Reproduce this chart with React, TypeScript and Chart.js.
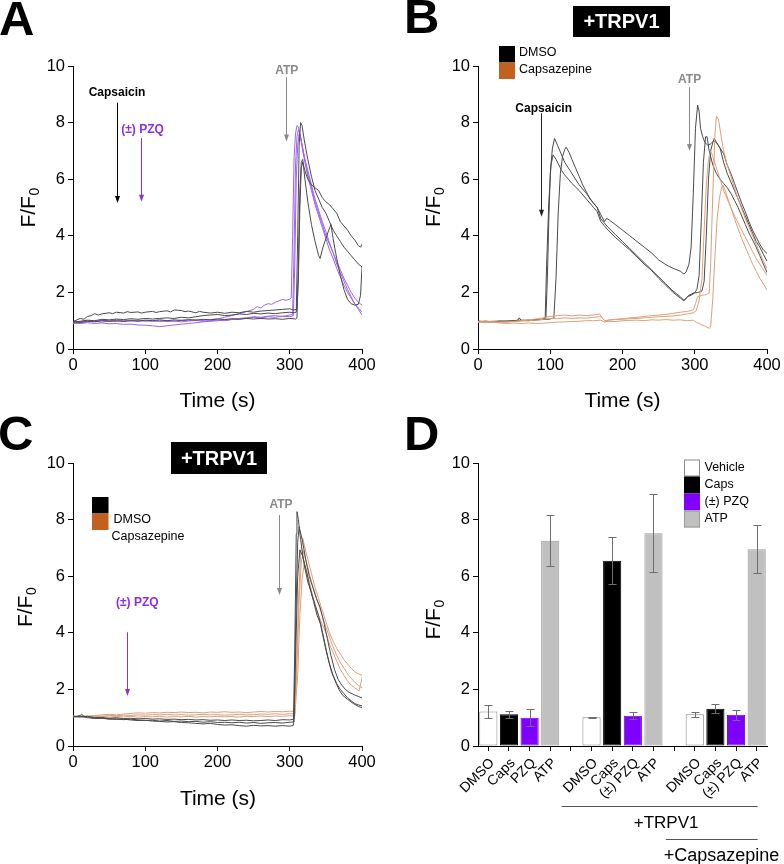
import React, { useEffect, useRef } from 'react';
import { Chart, registerables } from 'chart.js';
Chart.register(...registerables);

const FONT = '"Liberation Sans", Arial, Helvetica, sans-serif';
const BLACK_LINE = '#4a4a4a';
const PURPLE_LINE = '#9d63f0';
const ORANGE_LINE = '#dd9f78';
const PURPLE_TEXT = '#8d2ee6';
const GRAY_TEXT = '#8a8a8a';
const LEGEND_ORANGE = '#c2611f';

type Pt = [number, number];

// ---------- Panel A traces: [time (s), F/F0] ----------
const A_BLACK_1: Pt[] = [[0,0.98],[5,1.02],[10,1.08],[15,1.05],[20,1.15],[25,1.18],[30,1.25],[35,1.2],[40,1.24],[50,1.28],[55,1.25],[60,1.3],[70,1.27],[75,1.32],[80,1.29],[90,1.31],[95,1.27],[100,1.3],[110,1.33],[115,1.29],[120,1.32],[130,1.35],[135,1.31],[140,1.38],[150,1.36],[155,1.32],[160,1.34],[170,1.28],[175,1.33],[180,1.3],[190,1.27],[200,1.3],[210,1.26],[220,1.3],[230,1.28],[240,1.33],[250,1.3],[260,1.34],[270,1.36],[280,1.38],[290,1.4],[300,1.42],[305,1.38],[310,1.4],[312,2.5],[314,5.0],[316,6.4],[318,6.6],[321,6.3],[325,6.0],[330,5.8],[335,5.7],[340,5.6],[345,5.35],[350,5.2],[355,5.1],[360,4.95],[365,4.8],[370,4.5],[375,4.35],[380,4.2],[385,4.0],[390,3.85],[395,3.65],[398,3.6],[400,3.7]];
const A_BLACK_2: Pt[] = [[0,0.95],[10,0.98],[20,1.02],[30,1.0],[40,1.05],[50,1.03],[60,1.06],[70,1.04],[80,1.07],[90,1.05],[100,1.08],[110,1.06],[120,1.08],[130,1.1],[140,1.08],[150,1.12],[160,1.1],[170,1.14],[180,1.18],[190,1.2],[200,1.22],[210,1.18],[220,1.2],[230,1.24],[240,1.22],[250,1.26],[260,1.24],[270,1.27],[280,1.25],[290,1.28],[300,1.3],[306,1.28],[309,1.3],[311,4.0],[313,7.2],[315,8.0],[317,7.9],[320,7.4],[325,6.7],[330,6.1],[335,5.6],[340,5.3],[345,5.0],[350,4.8],[355,4.5],[360,4.2],[365,4.0],[370,3.8],[375,3.6],[380,3.45],[385,3.3],[390,3.15],[395,3.0],[400,2.9]];
const A_BLACK_3: Pt[] = [[0,0.96],[10,0.94],[20,0.98],[30,0.96],[40,1.0],[50,0.98],[60,1.0],[70,0.97],[80,1.0],[90,0.98],[100,1.02],[110,1.0],[120,1.03],[130,1.0],[140,1.03],[150,1.01],[160,1.04],[170,1.02],[180,1.05],[190,1.03],[200,1.06],[210,1.04],[220,1.07],[230,1.05],[240,1.08],[250,1.06],[260,1.08],[270,1.06],[280,1.07],[290,1.05],[300,1.08],[308,1.06],[310,1.1],[312,3.0],[314,5.6],[316,6.6],[318,6.7],[321,6.0],[325,5.2],[330,4.4],[335,3.8],[340,3.3],[342,3.2],[346,3.6],[350,3.9],[354,4.2],[357,4.4],[360,3.9],[365,3.2],[370,2.6],[375,2.1],[380,1.75],[385,1.6],[390,1.55],[395,1.58],[398,1.9],[400,2.9]];
const A_PURPLE_1: Pt[] = [[0,0.9],[10,0.93],[20,0.96],[30,0.98],[40,0.95],[50,1.0],[60,0.97],[70,1.02],[80,0.99],[90,1.01],[100,0.98],[110,1.0],[120,0.97],[130,1.0],[140,0.98],[150,1.02],[160,1.0],[170,1.03],[180,1.01],[190,1.04],[200,1.06],[210,1.12],[220,1.18],[230,1.25],[240,1.32],[250,1.4],[255,1.5],[260,1.45],[265,1.55],[270,1.6],[275,1.58],[280,1.65],[285,1.7],[290,1.75],[295,1.72],[300,1.76],[302,1.8],[304,4.0],[306,6.8],[308,7.6],[310,7.9],[312,7.85],[315,7.5],[318,7.0],[321,6.6],[325,6.1],[330,5.6],[335,5.1],[340,4.7],[345,4.3],[350,3.9],[355,3.5],[360,3.2],[365,2.85],[370,2.55],[375,2.25],[380,2.0],[385,1.8],[390,1.6],[395,1.45],[400,1.3]];
const A_PURPLE_2: Pt[] = [[0,0.92],[10,0.9],[20,0.93],[30,0.9],[40,0.92],[50,0.89],[60,0.9],[70,0.87],[80,0.88],[90,0.85],[100,0.84],[110,0.82],[120,0.79],[130,0.82],[140,0.85],[150,0.88],[160,0.9],[170,0.93],[180,0.96],[190,0.98],[200,1.0],[210,1.02],[220,1.05],[230,1.08],[240,1.1],[250,1.14],[260,1.12],[270,1.16],[280,1.18],[290,1.15],[300,1.2],[304,1.22],[306,3.5],[308,6.5],[310,7.5],[312,7.75],[314,7.6],[317,7.2],[320,6.8],[325,6.3],[330,5.8],[335,5.3],[340,4.9],[345,4.5],[350,4.15],[355,3.75],[360,3.4],[365,3.0],[370,2.7],[375,2.4],[380,2.1],[385,1.85],[390,1.6],[395,1.4],[400,1.2]];
const A_PURPLE_3: Pt[] = [[0,0.95],[10,0.97],[20,1.0],[30,0.98],[40,1.02],[50,0.99],[60,1.03],[70,1.0],[80,1.02],[90,0.99],[100,1.01],[110,0.98],[120,1.0],[130,0.97],[140,0.99],[150,0.96],[160,0.99],[170,1.01],[180,0.98],[190,1.0],[200,1.02],[210,1.0],[220,1.04],[230,1.06],[240,1.09],[250,1.12],[260,1.1],[270,1.14],[280,1.12],[290,1.16],[300,1.14],[305,1.18],[307,3.0],[309,6.0],[311,7.2],[313,7.6],[315,7.5],[318,7.1],[321,6.7],[325,6.2],[330,5.7],[335,5.2],[340,4.8],[345,4.4],[350,4.0],[355,3.7],[360,3.4],[365,3.1],[370,2.8],[375,2.5],[380,2.25],[385,2.0],[390,1.8],[395,1.65],[400,1.55]];

// ---------- Panel B traces ----------
const B_BLACK_1: Pt[] = [[0,0.97],[10,0.98],[20,0.96],[30,0.98],[40,0.97],[50,1.0],[55,1.02],[57,1.1],[60,1.0],[70,1.02],[80,1.04],[90,1.05],[94,1.1],[96,2.5],[98,4.5],[100,6.2],[103,7.1],[106,7.44],[110,7.2],[115,6.9],[120,6.6],[125,6.4],[130,6.2],[140,5.8],[150,5.5],[160,5.15],[165,5.0],[170,4.6],[175,4.45],[180,4.3],[190,4.05],[200,3.8],[210,3.55],[220,3.3],[230,3.05],[240,2.8],[250,2.55],[260,2.3],[270,2.05],[280,1.85],[285,1.72],[288,1.8],[292,1.9],[296,1.95],[300,2.0],[303,2.1],[306,2.6],[309,4.5],[312,6.6],[315,7.5],[317,7.5],[320,7.0],[325,6.5],[330,6.2],[335,6.0],[340,5.85],[345,5.7],[350,5.5],[355,5.25],[360,5.0],[365,4.7],[370,4.4],[375,4.1],[380,3.85],[385,3.6],[390,3.3],[395,3.0],[400,2.7]];
const B_BLACK_2: Pt[] = [[0,0.99],[10,0.96],[20,0.98],[30,0.97],[40,0.99],[50,0.98],[60,1.01],[70,1.0],[80,1.03],[90,1.05],[93,1.1],[95,3.0],[98,5.2],[101,6.5],[104,6.86],[108,6.7],[112,6.5],[116,6.3],[120,6.15],[125,6.0],[130,5.85],[140,5.6],[150,5.3],[160,5.0],[165,4.85],[170,4.5],[175,4.35],[180,4.2],[190,3.95],[200,3.72],[210,3.5],[220,3.25],[230,3.0],[240,2.78],[250,2.5],[260,2.25],[270,2.0],[280,1.8],[285,1.7],[290,1.85],[295,1.9],[300,1.98],[305,2.0],[310,2.05],[313,2.4],[316,4.0],[319,6.0],[322,7.0],[325,7.3],[327,7.44],[330,7.3],[335,7.1],[340,6.6],[345,6.2],[350,5.9],[355,5.6],[360,5.3],[365,5.0],[370,4.7],[375,4.4],[380,4.1],[385,3.8],[390,3.6],[395,3.35],[400,3.1]];
const B_BLACK_3: Pt[] = [[0,0.96],[10,0.98],[20,0.97],[30,0.99],[40,0.98],[50,1.0],[60,1.02],[70,1.01],[80,1.03],[90,1.04],[100,1.06],[105,1.1],[108,2.5],[111,4.8],[114,6.2],[117,6.8],[120,7.05],[122,7.13],[126,6.95],[130,6.7],[135,6.4],[140,6.1],[145,5.8],[150,5.55],[155,5.3],[160,5.15],[165,5.0],[170,4.75],[175,4.5],[178,4.62],[182,4.55],[190,4.4],[200,4.2],[210,4.0],[220,3.8],[230,3.6],[240,3.4],[250,3.15],[260,2.98],[270,2.85],[280,2.75],[285,2.65],[288,2.72],[292,3.0],[295,3.6],[298,5.5],[301,7.8],[304,8.62],[306,8.4],[308,7.8],[311,7.5],[314,7.3],[318,7.2],[322,7.25],[326,7.35],[330,7.3],[335,7.1],[340,6.9],[345,6.5],[350,6.2],[355,5.85],[360,5.5],[365,5.15],[370,4.85],[375,4.5],[380,4.2],[385,3.95],[390,3.7],[395,3.5],[400,3.38]];
const B_ORANGE_1: Pt[] = [[0,0.95],[10,0.97],[20,0.94],[30,0.96],[40,0.95],[50,0.98],[60,1.0],[70,1.03],[80,1.06],[90,1.1],[100,1.15],[110,1.18],[120,1.2],[130,1.17],[140,1.2],[150,1.18],[160,1.2],[168,1.24],[172,1.1],[176,0.98],[180,1.02],[190,1.05],[200,1.07],[210,1.1],[220,1.12],[230,1.15],[240,1.18],[250,1.2],[260,1.22],[270,1.26],[280,1.3],[290,1.33],[298,1.38],[301,1.6],[304,1.85],[310,1.9],[316,1.92],[320,1.98],[322,3.0],[325,5.5],[328,7.6],[330,8.23],[333,8.1],[336,7.6],[340,7.0],[345,6.5],[350,6.1],[355,5.7],[360,5.3],[365,4.95],[370,4.6],[375,4.3],[380,4.0],[385,3.7],[390,3.4],[395,3.1],[400,2.85]];
const B_ORANGE_2: Pt[] = [[0,0.97],[10,0.95],[20,0.97],[30,0.94],[40,0.96],[50,0.97],[60,0.99],[70,1.0],[80,1.02],[90,1.05],[100,1.08],[110,1.07],[120,1.1],[130,1.08],[140,1.1],[150,1.09],[160,1.12],[170,1.14],[175,1.0],[180,1.02],[190,1.04],[200,1.05],[210,1.07],[220,1.08],[230,1.1],[240,1.12],[250,1.14],[260,1.15],[270,1.17],[280,1.2],[290,1.24],[298,1.28],[302,1.35],[306,1.7],[310,2.5],[313,4.2],[316,5.8],[319,6.7],[322,7.0],[325,6.8],[330,6.4],[335,6.0],[340,5.6],[345,5.3],[350,5.0],[355,4.7],[360,4.45],[365,4.2],[370,3.95],[375,3.7],[380,3.45],[385,3.2],[390,3.0],[395,2.8],[400,2.6]];
const B_ORANGE_3: Pt[] = [[0,0.95],[10,0.93],[20,0.95],[30,0.92],[40,0.9],[50,0.92],[60,0.9],[70,0.92],[80,0.9],[90,0.91],[100,0.93],[110,0.95],[120,0.96],[130,0.97],[140,0.98],[150,1.0],[160,1.0],[170,1.02],[175,0.95],[180,0.98],[190,0.97],[200,1.0],[210,1.01],[220,1.02],[230,1.0],[240,1.03],[250,1.02],[260,1.04],[270,1.02],[280,1.03],[290,1.0],[298,1.02],[302,0.95],[306,0.9],[310,0.85],[315,0.8],[320,0.73],[322,0.78],[325,1.8],[328,3.3],[331,4.6],[334,5.3],[337,5.7],[339,5.8],[342,5.6],[346,5.3],[350,5.0],[355,4.6],[360,4.25],[365,3.9],[370,3.6],[375,3.3],[380,3.0],[385,2.75],[390,2.5],[395,2.3],[400,2.08]];

// ---------- Panel C traces ----------
const C_BLACK_1: Pt[] = [[0,1.05],[5,1.04],[10,1.08],[12,1.12],[15,1.05],[20,1.03],[30,1.0],[40,0.98],[50,0.96],[60,0.94],[70,0.95],[80,0.92],[90,0.9],[100,0.91],[110,0.88],[120,0.87],[130,0.85],[140,0.86],[150,0.83],[160,0.82],[170,0.8],[180,0.78],[190,0.8],[200,0.76],[210,0.74],[220,0.75],[230,0.72],[240,0.7],[250,0.73],[260,0.71],[270,0.72],[280,0.7],[290,0.72],[300,0.7],[305,0.73],[307,3.5],[309,7.5],[310,8.28],[312,8.0],[315,7.3],[320,6.4],[325,5.8],[330,5.4],[335,5.0],[340,4.6],[345,4.0],[350,3.4],[355,2.9],[360,2.5],[365,2.2],[370,2.0],[375,1.85],[380,1.7],[385,1.6],[390,1.5],[395,1.45],[400,1.42]];
const C_BLACK_2: Pt[] = [[0,1.03],[10,1.05],[20,1.0],[30,0.97],[40,0.98],[50,0.95],[60,0.96],[70,0.93],[80,0.95],[90,0.92],[100,0.9],[110,0.91],[120,0.88],[130,0.9],[140,0.87],[150,0.88],[160,0.86],[170,0.87],[180,0.84],[190,0.86],[200,0.83],[210,0.84],[220,0.82],[230,0.84],[240,0.81],[250,0.83],[260,0.8],[270,0.82],[280,0.83],[290,0.81],[300,0.84],[306,0.85],[308,4.0],[311,7.2],[313,7.75],[318,7.2],[322,6.6],[327,6.0],[332,5.6],[337,5.2],[342,4.9],[347,4.4],[352,3.8],[357,3.2],[362,2.7],[367,2.35],[372,2.15],[377,2.0],[382,1.9],[390,1.8],[395,1.75],[400,1.7]];
const C_BLACK_3: Pt[] = [[0,1.04],[10,1.02],[20,1.05],[30,1.0],[40,1.01],[50,0.98],[60,1.0],[70,0.97],[80,0.98],[90,0.96],[100,0.97],[110,0.95],[120,0.96],[130,0.94],[140,0.95],[150,0.93],[160,0.94],[170,0.92],[180,0.93],[190,0.91],[200,0.92],[210,0.9],[220,0.92],[230,0.9],[240,0.91],[250,0.89],[260,0.9],[270,0.92],[280,0.9],[290,0.93],[300,0.92],[306,0.95],[308,3.0],[311,6.0],[314,6.93],[318,6.7],[323,6.2],[328,5.6],[333,5.1],[338,4.6],[343,4.3],[348,3.7],[353,3.1],[358,2.6],[363,2.3],[368,2.0],[373,1.8],[380,1.65],[388,1.5],[395,1.4],[400,1.35]];
const C_ORANGE_1: Pt[] = [[0,1.05],[10,1.07],[20,1.05],[30,1.08],[40,1.1],[50,1.12],[60,1.1],[70,1.13],[80,1.15],[90,1.17],[100,1.16],[110,1.18],[120,1.17],[130,1.19],[140,1.18],[150,1.2],[160,1.18],[170,1.19],[180,1.17],[190,1.2],[200,1.19],[210,1.21],[220,1.19],[230,1.2],[240,1.18],[250,1.2],[260,1.22],[270,1.2],[280,1.22],[290,1.21],[300,1.23],[306,1.22],[309,2.5],[312,5.0],[315,6.8],[318,7.34],[321,7.0],[325,6.6],[330,6.1],[335,5.6],[340,5.2],[345,4.8],[350,4.4],[355,4.0],[360,3.7],[365,3.45],[370,3.25],[375,3.05],[380,2.9],[385,2.75],[390,2.62],[395,2.55],[400,2.5]];
const C_ORANGE_2: Pt[] = [[0,1.03],[10,1.05],[20,1.04],[30,1.06],[40,1.05],[50,1.08],[60,1.07],[70,1.09],[80,1.08],[90,1.1],[100,1.09],[110,1.11],[120,1.1],[130,1.12],[140,1.1],[150,1.11],[160,1.09],[170,1.1],[180,1.12],[190,1.1],[200,1.11],[210,1.09],[220,1.1],[230,1.12],[240,1.1],[250,1.11],[260,1.13],[270,1.12],[280,1.14],[290,1.12],[300,1.14],[307,1.13],[310,2.8],[313,5.2],[316,6.5],[319,6.9],[322,6.6],[326,6.2],[330,5.8],[335,5.4],[340,5.0],[345,4.6],[350,4.2],[355,3.85],[360,3.5],[365,3.2],[370,2.95],[375,2.75],[380,2.55],[385,2.4],[390,2.25],[395,2.15],[400,2.05]];
const C_ORANGE_3: Pt[] = [[0,1.06],[10,1.04],[20,1.06],[30,1.03],[40,1.05],[50,1.02],[60,1.04],[70,1.03],[80,1.05],[90,1.02],[100,1.04],[110,1.03],[120,1.05],[130,1.02],[140,1.04],[150,1.03],[160,1.05],[170,1.02],[180,1.04],[190,1.03],[200,1.05],[210,1.03],[220,1.04],[230,1.02],[240,1.05],[250,1.04],[260,1.06],[270,1.04],[280,1.06],[290,1.05],[300,1.07],[307,1.06],[311,2.5],[314,4.6],[317,5.9],[320,6.4],[324,6.1],[328,5.7],[332,5.3],[336,4.9],[340,4.6],[345,4.3],[350,4.0],[355,3.6],[360,3.3],[365,3.0],[370,2.7],[375,2.5],[380,2.3],[385,2.15],[390,2.05],[396,1.95],[400,2.4]];

// ---------- Panel D bars ----------
const D_LABELS = ['DMSO', 'Caps', 'PZQ', 'ATP', '', 'DMSO', 'Caps', '(±) PZQ', 'ATP', '', 'DMSO', 'Caps', '(±) PZQ', 'ATP'];
const D_MEANS = [1.22, 1.12, 1.0, 7.25, null, 1.02, 6.55, 1.07, 7.52, null, 1.12, 1.32, 1.1, 6.95];
const D_ERRORS = [0.22, 0.12, 0.29, 0.9, null, 0.02, 0.83, 0.13, 1.37, null, 0.08, 0.17, 0.18, 0.85];
const D_KIND = ['veh', 'caps', 'pzq', 'atp', '', 'veh', 'caps', 'pzq', 'atp', '', 'veh', 'caps', 'pzq', 'atp'];
const D_LEGEND = ['Vehicle', 'Caps', '(±) PZQ', 'ATP'];

const X_TICKS = [0, 100, 200, 300, 400];
const Y_TICKS = [0, 2, 4, 6, 8, 10];

const KIND_FILL: Record<string, string> = { veh: '#ffffff', caps: '#000000', pzq: '#7f00ff', atp: '#c0c0c0', '': '#fff' };
const KIND_BORDER: Record<string, string> = { veh: '#8a8a8a', caps: '#000000', pzq: '#6a00d8', atp: '#9a9a9a', '': '#fff' };

// ---------- annotations (data coordinates) ----------
const A_ARROWS = [
  { t: 60.5, from: 8.7, to: 5.16, color: '#000' },
  { t: 93.7, from: 7.45, to: 5.2, color: PURPLE_TEXT },
  { t: 294.8, from: 9.6, to: 7.33, color: GRAY_TEXT },
];
const A_NOTES = [
  { text: 'Capsaicin', t: 60.9, y: 9.05, color: '#000' },
  { text: '(±) PZQ', t: 96.2, y: 7.74, color: PURPLE_TEXT },
  { text: 'ATP', t: 295.8, y: 9.82, color: GRAY_TEXT },
];
const B_ARROWS = [
  { t: 87.2, from: 8.33, to: 4.67, color: '#222' },
  { t: 292.5, from: 9.25, to: 7.0, color: GRAY_TEXT },
];
const B_NOTES = [
  { text: 'Capsaicin', t: 90.9, y: 8.5, color: '#000' },
  { text: 'ATP', t: 292.9, y: 9.5, color: GRAY_TEXT },
];
const C_ARROWS = [
  { t: 285.6, from: 8.16, to: 5.34, color: GRAY_TEXT },
  { t: 75.2, from: 4.02, to: 1.77, color: PURPLE_TEXT },
];
const C_NOTES = [
  { text: 'ATP', t: 287.9, y: 8.54, color: GRAY_TEXT },
  { text: '(±) PZQ', t: 89, y: 5.08, color: PURPLE_TEXT },
];

function toXY(pts: Pt[]) {
  return pts.map(([x, y]) => ({ x, y }));
}

function drawText(ctx: CanvasRenderingContext2D, s: string, x: number, y: number, font: string, color: string, align: CanvasTextAlign = 'center', baseline: CanvasTextBaseline = 'middle') {
  ctx.save();
  ctx.font = font;
  ctx.fillStyle = color;
  ctx.textAlign = align;
  ctx.textBaseline = baseline;
  ctx.fillText(s, x, y);
  ctx.restore();
}

function drawYTitle(ctx: CanvasRenderingContext2D, cx: number, cy: number, size: number) {
  ctx.save();
  ctx.translate(cx, cy);
  ctx.rotate(-Math.PI / 2);
  ctx.fillStyle = '#000';
  ctx.textAlign = 'left';
  ctx.textBaseline = 'alphabetic';
  const sub = size * 0.66;
  ctx.font = `${size}px ${FONT}`;
  const w1 = ctx.measureText('F/F').width;
  ctx.font = `${sub}px ${FONT}`;
  const w2 = ctx.measureText('0').width;
  const x0 = -(w1 + w2) / 2;
  const base = size * 0.358;
  ctx.font = `${size}px ${FONT}`;
  ctx.fillText('F/F', x0, base);
  ctx.font = `${sub}px ${FONT}`;
  ctx.fillText('0', x0 + w1 + 0.5, base + size * 0.2);
  ctx.restore();
}

function drawArrows(chart: any, arrows: any[], notes: any[]) {
  const ctx: CanvasRenderingContext2D = chart.ctx;
  const xs = chart.scales.x;
  const ys = chart.scales.y;
  arrows.forEach((a) => {
    const x = Math.round(xs.getPixelForValue(a.t)) + 0.5;
    const p1 = ys.getPixelForValue(a.from);
    const p2 = ys.getPixelForValue(a.to);
    ctx.save();
    ctx.strokeStyle = a.color;
    ctx.fillStyle = a.color;
    ctx.lineWidth = 1;
    ctx.beginPath();
    ctx.moveTo(x, p1);
    ctx.lineTo(x, p2 - 5);
    ctx.stroke();
    ctx.beginPath();
    ctx.moveTo(x - 2.5, p2 - 7);
    ctx.lineTo(x + 2.5, p2 - 7);
    ctx.lineTo(x, p2);
    ctx.closePath();
    ctx.fill();
    ctx.restore();
  });
  notes.forEach((n) => {
    drawText(ctx, n.text, xs.getPixelForValue(n.t), ys.getPixelForValue(n.y), `bold 12px ${FONT}`, n.color);
  });
}

function drawTrpvBox(ctx: CanvasRenderingContext2D, x: number, y: number, w: number, h: number) {
  ctx.save();
  ctx.fillStyle = '#000';
  ctx.fillRect(x, y, w, h);
  ctx.restore();
  drawText(ctx, '+TRPV1', x + w / 2, y + h / 2 + 1, `bold 20px ${FONT}`, '#fff');
}

function axisCommon(min: number, max: number, ticks: number[], fit: (s: any) => void) {
  return {
    type: 'linear',
    min,
    max,
    afterBuildTicks: (s: any) => {
      s.ticks = ticks.map((v) => ({ value: v }));
    },
    ticks: { font: { family: FONT, size: 16.5 }, color: '#000', padding: 3, maxRotation: 0, autoSkip: false },
    grid: { display: true, drawOnChartArea: false, drawTicks: true, tickLength: 5, color: '#000', lineWidth: 1 },
    border: { display: true, color: '#000', width: 1 },
    afterFit: fit,
  };
}

function traceConfig(traces: { pts: Pt[]; color: string }[], padding: any, yW: number, xH: number, extra: (chart: any) => void) {
  return {
    type: 'line',
    data: {
      datasets: traces.map((t) => ({
        data: toXY(t.pts),
        borderColor: t.color,
        borderWidth: 1,
        pointRadius: 0,
        tension: 0,
        fill: false,
      })),
    },
    options: {
      responsive: false,
      animation: false,
      devicePixelRatio: 1,
      parsing: false,
      layout: { padding },
      plugins: { legend: { display: false }, tooltip: { enabled: false } },
      scales: {
        x: { ...axisCommon(0, 400, X_TICKS, (s: any) => { s.height = xH; }), ticks: { font: { family: FONT, size: 16.5 }, color: '#000', padding: 2, maxRotation: 0, autoSkip: false } },
        y: axisCommon(0, 10, Y_TICKS, (s: any) => { s.width = yW; }),
      },
    },
    plugins: [{ id: 'annot', afterDraw: extra }],
  };
}

function configA() {
  return traceConfig(
    [
      { pts: A_BLACK_1, color: BLACK_LINE },
      { pts: A_BLACK_2, color: BLACK_LINE },
      { pts: A_BLACK_3, color: BLACK_LINE },
      { pts: A_PURPLE_1, color: PURPLE_LINE },
      { pts: A_PURPLE_2, color: PURPLE_LINE },
      { pts: A_PURPLE_3, color: PURPLE_LINE },
    ],
    { left: 0, top: 66, right: 30, bottom: 0 },
    73,
    71,
    (chart: any) => {
      const ctx = chart.ctx;
      drawArrows(chart, A_ARROWS, A_NOTES);
      drawText(ctx, 'A', -1, 35, `bold 49px ${FONT}`, '#000', 'left', 'alphabetic');
      drawYTitle(ctx, 27.5, 208, 21);
      drawText(ctx, 'Time (s)', 217.5, 406.5, `21px ${FONT}`, '#000', 'center', 'alphabetic');
    }
  );
}

function configB() {
  return traceConfig(
    [
      { pts: B_ORANGE_1, color: ORANGE_LINE },
      { pts: B_ORANGE_2, color: ORANGE_LINE },
      { pts: B_ORANGE_3, color: ORANGE_LINE },
      { pts: B_BLACK_1, color: BLACK_LINE },
      { pts: B_BLACK_2, color: BLACK_LINE },
      { pts: B_BLACK_3, color: BLACK_LINE },
    ],
    { left: 0, top: 66, right: 17, bottom: 0 },
    86,
    71,
    (chart: any) => {
      const ctx = chart.ctx;
      drawArrows(chart, B_ARROWS, B_NOTES);
      drawText(ctx, 'B', 12, 33, `bold 49px ${FONT}`, '#000', 'left', 'alphabetic');
      drawTrpvBox(ctx, 181, 6, 97, 31);
      ctx.save();
      ctx.fillStyle = '#000';
      ctx.fillRect(107, 46, 16, 16.5);
      ctx.fillStyle = LEGEND_ORANGE;
      ctx.fillRect(107, 62.5, 16, 16.5);
      ctx.restore();
      drawText(ctx, 'DMSO', 127, 53, `12.5px ${FONT}`, '#000', 'left');
      drawText(ctx, 'Capsazepine', 127, 70, `12.5px ${FONT}`, '#000', 'left');
      drawYTitle(ctx, 40, 207.5, 21);
      drawText(ctx, 'Time (s)', 230.5, 406.5, `21px ${FONT}`, '#000', 'center', 'alphabetic');
    }
  );
}

function configC() {
  return traceConfig(
    [
      { pts: C_BLACK_1, color: BLACK_LINE },
      { pts: C_BLACK_2, color: BLACK_LINE },
      { pts: C_BLACK_3, color: BLACK_LINE },
      { pts: C_ORANGE_1, color: ORANGE_LINE },
      { pts: C_ORANGE_2, color: ORANGE_LINE },
      { pts: C_ORANGE_3, color: ORANGE_LINE },
    ],
    { left: 0, top: 63, right: 30, bottom: 0 },
    73,
    118,
    (chart: any) => {
      const ctx = chart.ctx;
      drawArrows(chart, C_ARROWS, C_NOTES);
      drawText(ctx, 'C', -2, 50, `bold 49px ${FONT}`, '#000', 'left', 'alphabetic');
      drawTrpvBox(ctx, 171, 42, 96, 32);
      ctx.save();
      ctx.fillStyle = '#000';
      ctx.fillRect(92, 97, 16.5, 16.5);
      ctx.fillStyle = LEGEND_ORANGE;
      ctx.fillRect(92, 113.5, 16.5, 16.5);
      ctx.restore();
      drawText(ctx, 'DMSO', 113.5, 119.5, `12.5px ${FONT}`, '#000', 'left');
      drawText(ctx, 'Capsazepine', 111.5, 137, `12.5px ${FONT}`, '#000', 'left');
      drawYTitle(ctx, 24, 207.5, 21);
      drawText(ctx, 'Time (s)', 218, 405, `21px ${FONT}`, '#000', 'center', 'alphabetic');
    }
  );
}

function configD() {
  return {
    type: 'bar',
    data: {
      labels: D_LABELS,
      datasets: [
        {
          data: D_MEANS,
          backgroundColor: D_KIND.map((k) => KIND_FILL[k]),
          borderColor: D_KIND.map((k) => KIND_BORDER[k]),
          borderWidth: 1,
          borderSkipped: false,
          barPercentage: 0.88,
          categoryPercentage: 1,
        },
      ],
    },
    options: {
      responsive: false,
      animation: false,
      devicePixelRatio: 1,
      layout: { padding: { left: 0, top: 63, right: 17, bottom: 0 } },
      plugins: { legend: { display: false }, tooltip: { enabled: false } },
      scales: {
        x: {
          type: 'category',
          offset: true,
          ticks: { font: { family: FONT, size: 14 }, color: '#000', padding: 4, labelOffset: 4, minRotation: 45, maxRotation: 45, autoSkip: false },
          grid: { display: true, offset: false, drawOnChartArea: false, drawTicks: true, tickLength: 5, color: '#000', lineWidth: 1 },
          border: { display: true, color: '#000', width: 1 },
          afterFit: (s: any) => { s.height = 118; },
        },
        y: axisCommon(0, 10, Y_TICKS, (s: any) => { s.width = 86; }),
      },
    },
    plugins: [
      {
        id: 'errbars',
        afterDatasetsDraw: (chart: any) => {
          const ctx: CanvasRenderingContext2D = chart.ctx;
          const ys = chart.scales.y;
          const meta = chart.getDatasetMeta(0);
          ctx.save();
          ctx.strokeStyle = '#6e6e6e';
          ctx.lineWidth = 1;
          meta.data.forEach((el: any, i: number) => {
            const m = D_MEANS[i];
            const e = D_ERRORS[i];
            if (m == null || e == null) return;
            const x = Math.round(el.x) + 0.5;
            const top = Math.round(ys.getPixelForValue(m + e)) + 0.5;
            const bot = Math.round(ys.getPixelForValue(m - e)) + 0.5;
            ctx.beginPath();
            ctx.moveTo(x, top);
            ctx.lineTo(x, bot);
            ctx.moveTo(x - 4, top);
            ctx.lineTo(x + 4, top);
            ctx.moveTo(x - 4, bot);
            ctx.lineTo(x + 4, bot);
            ctx.stroke();
          });
          ctx.restore();
        },
        afterDraw: (chart: any) => {
          const ctx: CanvasRenderingContext2D = chart.ctx;
          const xs = chart.scales.x;
          drawText(ctx, 'D', 12, 50, `bold 49px ${FONT}`, '#000', 'left', 'alphabetic');
          drawYTitle(ctx, 40.5, 220, 21);
          // legend
          const kinds = ['veh', 'caps', 'pzq', 'atp'];
          kinds.forEach((k, i) => {
            const y = 59.5 + i * 17;
            ctx.save();
            ctx.fillStyle = KIND_FILL[k];
            ctx.fillRect(292, y, 16, 17);
            if (k === 'veh' || k === 'atp') {
              ctx.strokeStyle = KIND_BORDER[k];
              ctx.lineWidth = 1;
              ctx.strokeRect(292.5, y + 0.5, 15, 16);
            }
            ctx.restore();
            drawText(ctx, D_LEGEND[i], 312.5, y + 8.5, `12.5px ${FONT}`, '#000', 'left');
          });
          // group brackets
          const w = xs.getPixelForValue(1) - xs.getPixelForValue(0);
          const x1 = xs.getPixelForValue(4) - 0.45 * w;
          const x2 = xs.getPixelForValue(13) + 1;
          const x3 = xs.getPixelForValue(9) - 0.4 * w;
          ctx.save();
          ctx.strokeStyle = '#555';
          ctx.lineWidth = 1;
          ctx.beginPath();
          ctx.moveTo(x1, 406.5);
          ctx.lineTo(x2, 406.5);
          ctx.moveTo(x3, 439.5);
          ctx.lineTo(x2, 439.5);
          ctx.stroke();
          ctx.restore();
          drawText(ctx, '+TRPV1', xs.getPixelForValue(9) - 8, 428, `17px ${FONT}`, '#000', 'center', 'alphabetic');
          drawText(ctx, '+Capsazepine', 329.5, 460.5, `18px ${FONT}`, '#000', 'center', 'alphabetic');
        },
      },
    ],
  };
}

function Panel({ left, top, width, height, make }: { left: number; top: number; width: number; height: number; make: () => any }) {
  const ref = useRef<HTMLCanvasElement>(null);
  useEffect(() => {
    const chart = new Chart(ref.current as HTMLCanvasElement, make());
    return () => chart.destroy();
  }, []);
  return (
    <div style={{ position: 'absolute', left, top, width, height }}>
      <canvas ref={ref} width={width} height={height} style={{ display: 'block', width, height }} />
    </div>
  );
}

export default function App() {
  return (
    <div style={{ position: 'absolute', left: 0, top: 0, width: 784, height: 864, background: '#fff', overflow: 'hidden' }}>
      <Panel left={0} top={0} width={392} height={420} make={configA} />
      <Panel left={392} top={0} width={392} height={420} make={configB} />
      <Panel left={0} top={400} width={392} height={464} make={configC} />
      <Panel left={392} top={400} width={392} height={464} make={configD} />
    </div>
  );
}
